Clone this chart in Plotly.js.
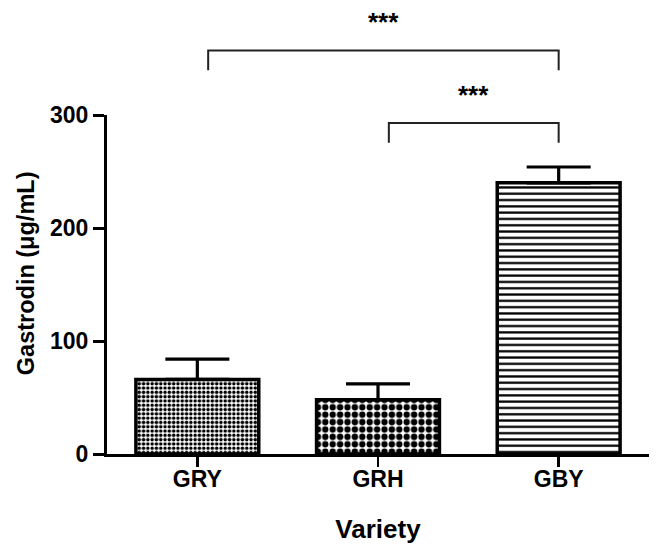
<!DOCTYPE html>
<html>
<head>
<meta charset="utf-8">
<script src="https://cdn.plot.ly/plotly-3.0.1.min.js"></script>
<style>html,body{margin:0;padding:0;background:#fff;}#chart{width:664px;height:560px;}</style>
</head>
<body>
<div id="chart"></div>
<script>
// ---- data ----
var categories = ['GRY', 'GRH', 'GBY'];
var means = [66, 48, 240];
var errUp = [18, 14, 14];
var yTickVals = [0, 100, 200, 300];
var patternShapes = ['.', '.', '-'];
// significance comparisons
var compFrom = [0, 1];
var compTo = [2, 2];
var compLevel = [357, 293];
var compLabel = ['***', '***'];

var yMax = 300;
var FONT = 'Liberation Sans, Arial, Helvetica, sans-serif';

var patSizes = [4.3, 7.4, 6.3];
var patSolid = [0.52, 0.58, 0.36];

var trace = {
  type: 'bar',
  x: categories,
  y: means,
  width: 0.68,
  marker: {
    color: 'white',
    line: {color: 'black', width: 3.5},
    pattern: {
      shape: patternShapes,
      size: patSizes,
      solidity: patSolid,
      fgcolor: 'black',
      bgcolor: 'white',
      fillmode: 'replace'
    }
  },
  error_y: {
    type: 'data',
    symmetric: false,
    array: errUp,
    arrayminus: [0, 0, 0],
    color: 'black',
    thickness: 3.2,
    width: 32
  },
  hoverinfo: 'none'
};

var shapes = [];
var annotations = [];
var nCat = categories.length;
function xPaper(i, off) { return (i + 0.5 + off) / nCat; }
for (var k = 0; k < compFrom.length; k++) {
  var x0 = xPaper(compFrom[k], 0.06);
  var x1 = xPaper(compTo[k], 0);
  var yb = compLevel[k] / yMax;
  var legLen = 17.5 / yMax;
  shapes.push({type: 'path', xref: 'paper', yref: 'paper',
    path: 'M' + x0 + ',' + (yb - legLen) + ' L' + x0 + ',' + yb + ' L' + x1 + ',' + yb + ' L' + x1 + ',' + (yb - legLen),
    line: {color: '#222', width: 2}});
  annotations.push({xref: 'paper', yref: 'paper', x: (x0 + x1) / 2, y: yb + 10 / yMax,
    text: compLabel[k], showarrow: false, xanchor: 'center', yanchor: 'bottom',
    font: {family: FONT, size: 26, color: 'black', weight: 'bold'}});
}
// y-axis title as annotation for precise placement
annotations.push({xref: 'paper', yref: 'paper', x: -0.149, y: 0.534,
  text: 'Gastrodin (μg/mL)', textangle: -90, showarrow: false,
  xanchor: 'center', yanchor: 'middle',
  font: {family: FONT, size: 23.5, color: 'black', weight: 'bold'}});

var layout = {
  width: 664, height: 560,
  margin: {l: 107, r: 15, t: 115, b: 106},
  paper_bgcolor: 'white', plot_bgcolor: 'white',
  showlegend: false,
  bargap: 0.32,
  xaxis: {
    type: 'category',
    range: [-0.5, 2.5],
    showline: true, linecolor: 'black', linewidth: 3,
    ticks: 'outside', ticklen: 10, tickwidth: 2.5, tickcolor: 'black',
    ticklabelstandoff: -8,
    showgrid: false, zeroline: false,
    tickfont: {family: FONT, size: 23, color: 'black', weight: 'bold'},
    title: {text: 'Variety', standoff: 30, font: {family: FONT, size: 26, color: 'black', weight: 'bold'}},
    fixedrange: true
  },
  yaxis: {
    range: [0, yMax],
    tickvals: yTickVals,
    ticktext: yTickVals.map(String),
    showline: true, linecolor: 'black', linewidth: 3,
    ticks: 'outside', ticklen: 11, tickwidth: 3, tickcolor: 'black',
    showgrid: false, zeroline: false,
    tickfont: {family: FONT, size: 23, color: 'black', weight: 'bold'},
    fixedrange: true
  },
  shapes: shapes,
  annotations: annotations
};

Plotly.newPlot('chart', [trace], layout, {staticPlot: true, displayModeBar: false});
</script>
</body>
</html>
